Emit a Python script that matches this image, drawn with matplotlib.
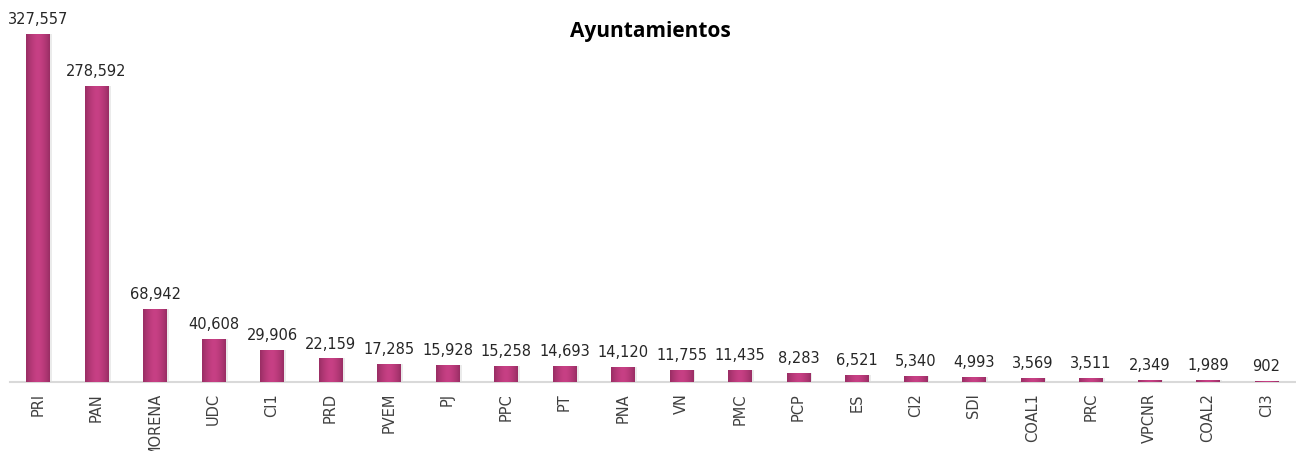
import matplotlib.pyplot as plt
import numpy as np

parties = ['PRI', 'PAN', 'MORENA', 'UDC', 'CI1', 'PRD', 'PVEM', 'PJ', 'PPC', 'PT', 'PNA',
           'VN', 'PMC', 'PCP', 'ES', 'CI2', 'SDI', 'COAL1', 'PRC', 'VPCNR', 'COAL2', 'CI3']
votes = [327557, 278592, 68942, 40608, 29906, 22159, 17285, 15928, 15258, 14693, 14120,
         11755, 11435, 8283, 6521, 5340, 4993, 3569, 3511, 2349, 1989, 902]

fig = plt.figure(figsize=(12.96, 4.51), dpi=100)
ax = fig.add_axes([0.0077, 0.153, 0.992, 0.847])

x = np.arange(len(parties))
bars = ax.bar(x, votes, width=0.4, color='#c13f80', zorder=2)

# cylinder-like shading on each bar
grad = np.linspace(-1, 1, 64)
shade = 1 - np.abs(grad) ** 1.6
c_edge = np.array([0.60, 0.18, 0.39])
c_mid = np.array([0.78, 0.25, 0.52])
img = c_edge[None, :] + (c_mid - c_edge)[None, :] * shade[:, None]
img = img[None, :, :]
for b in bars:
    x0, w, h = b.get_x(), b.get_width(), b.get_height()
    im = ax.imshow(img, extent=(x0, x0 + w, 0, h), aspect='auto', zorder=3,
                   interpolation='bilinear')
    im.set_clip_path(b)
    ax.bar(b.get_x() + w / 2 + 0.04, h, width=w, color='#000000', alpha=0.08, zorder=1)
    ax.annotate(f'{int(h):,}', (x0 + w / 2, h), xytext=(0, 5), textcoords='offset points',
                ha='center', va='bottom', fontsize=10.5, color='#262626', family='DejaVu Sans')

ax.set_xlim(-0.48, 21.5)
ax.set_ylim(0, 359600)
ax.set_xticks(x)
ax.set_xticklabels(parties, rotation=90, fontsize=10.5, color='#404040')
ax.tick_params(axis='x', length=0, pad=8)
ax.set_yticks([])
for s in ['top', 'right', 'left']:
    ax.spines[s].set_visible(False)
ax.spines['bottom'].set_color('#d9d9d9')
ax.spines['bottom'].set_linewidth(1.5)

fig.text(0.502, 0.931, 'Ayuntamientos', ha='center', va='center', fontsize=15,
         fontweight='bold', family='Open Sans', color='#000000')

fig.savefig('out.png', dpi=100)
